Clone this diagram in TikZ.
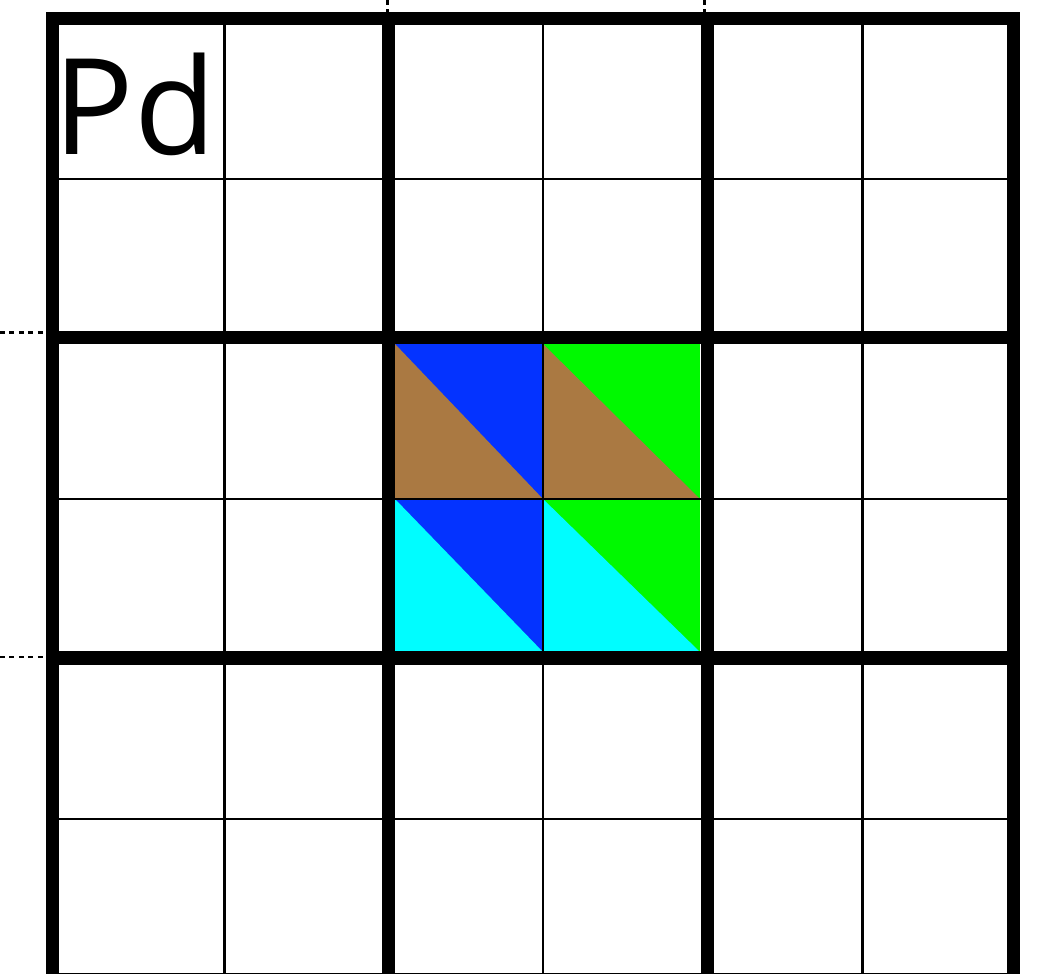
\documentclass[tikz,border=0pt]{standalone}
\usepackage{fontspec}
\setmainfont{Open Sans}
\definecolor{cblue}{HTML}{0433FF}
\definecolor{cgreen}{HTML}{00F900}
\definecolor{cbrown}{HTML}{AA7942}
\definecolor{ccyan}{HTML}{00FDFF}
\tikzset{
  major/.style={line width=3.7pt, draw=black},
  minor/.style={line width=0.75pt, draw=black},
  guide/.style={line width=0.85pt, draw=black, dash pattern=on 1.4pt off 1.3pt},
  elem/.style={inner sep=0pt, anchor=base west, font=\fontsize{38}{42}\selectfont}
}
\begin{document}
\begin{tikzpicture}[x=0.01cm, y=-0.01cm]
\useasboundingbox (0,0) rectangle (1040,974);
\clip (0,0) rectangle (1040,974);
% coloured cells: upper-right / lower-left halves
\foreach \xa/\xb/\ya/\yb/\ca/\cb in {395/543/344/499/cblue/cbrown, 543/700/344/499/cgreen/cbrown,
    395/543/499/652/cblue/ccyan, 543/700/499/652/cgreen/ccyan}{
  \fill[\ca] (\xa,\ya) rectangle (\xb,\yb);
  \fill[\cb] (\xa,\ya) -- (\xa,\yb) -- (\xb,\yb) -- cycle;
}
% fine grid
\foreach \p in {224.5,543,862.7}{
  \draw[minor] (\p,19) -- (\p,980);
}
\foreach \p in {179,499,819}{
  \draw[minor] (52.7,\p) -- (1013.3,\p);
}
% coarse grid
\draw[major] (52.7,19) rectangle (1013.3,980);
\foreach \p in {388,707}{
  \draw[major] (\p,19) -- (\p,980);
}
\foreach \p in {338,658}{
  \draw[major] (52.7,\p) -- (1013.3,\p);
}
% guides
\draw[guide] (387,0) -- (387,13);
\draw[guide] (704,0) -- (704,13);
\draw[guide] (0,333) -- (46,333);
\draw[guide] (0,657) -- (46,657);
\node[elem] (pd) at (53,155) {Pd};
\end{tikzpicture}
\end{document}
